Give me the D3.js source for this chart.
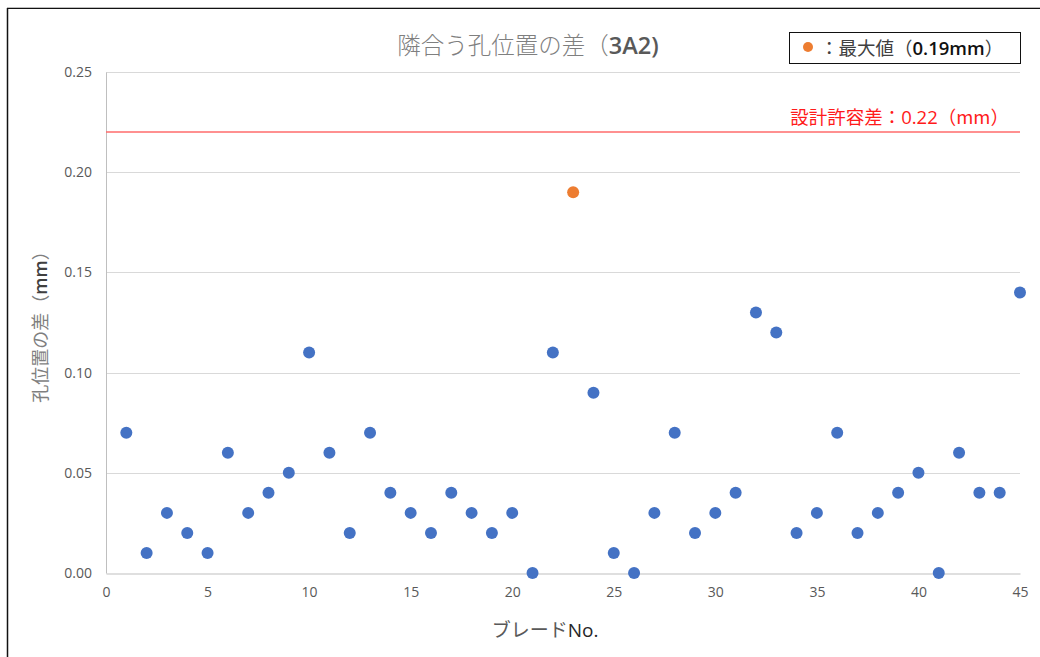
<!DOCTYPE html>
<html>
<head>
<meta charset="utf-8">
<script src="https://cdn.jsdelivr.net/npm/d3@7"></script>
<style>
  html, body { margin: 0; padding: 0; background: #fff; }
  svg { display: block; }
  text { font-family: "Noto Sans CJK JP", "Noto Sans", sans-serif; }
</style>
</head>
<body>
<svg id="chart" width="1040" height="657"></svg>
<script>
// Blade numbers and adjacent hole position difference (mm)
const bladeNo = d3.range(1, 46);
const diffValues = [
  0.07, 0.01, 0.03, 0.02, 0.01, 0.06, 0.03, 0.04, 0.05, 0.11,
  0.06, 0.02, 0.07, 0.04, 0.03, 0.02, 0.04, 0.03, 0.02, 0.03,
  0.00, 0.11, 0.19, 0.09, 0.01, 0.00, 0.03, 0.07, 0.02, 0.03,
  0.04, 0.13, 0.12, 0.02, 0.03, 0.07, 0.02, 0.03, 0.04, 0.05,
  0.00, 0.06, 0.04, 0.04, 0.14
];
const maxBlade = 23;
const tolerance = 0.22;
const yTicks = [0, 0.05, 0.10, 0.15, 0.20, 0.25];
const xTicks = [0, 5, 10, 15, 20, 25, 30, 35, 40, 45];

const latin = "'Open Sans', 'Noto Sans', sans-serif";
const svg = d3.select("#chart");
const margin = { left: 106, right: 20, top: 72, bottom: 84 };
const W = 1040, H = 657;

const x = d3.scaleLinear().domain([0, 45]).range([margin.left, W - margin.right]);
const y = d3.scaleLinear().domain([0, 0.25]).range([H - margin.bottom, margin.top]);

// Frame edges
svg.append("line").attr("x1", 7).attr("x2", W).attr("y1", 7.5).attr("y2", 7.5)
  .attr("stroke", "#bdbdbd").attr("stroke-width", 1);
svg.append("line").attr("x1", 7).attr("x2", W).attr("y1", 8.5).attr("y2", 8.5)
  .attr("stroke", "#111").attr("stroke-width", 1);
svg.append("line").attr("x1", 7.5).attr("x2", 7.5).attr("y1", 8).attr("y2", H)
  .attr("stroke", "#111").attr("stroke-width", 1.5);

// Horizontal gridlines
svg.append("g")
  .selectAll("line")
  .data(yTicks.slice(1))
  .join("line")
  .attr("x1", x(0)).attr("x2", x(45))
  .attr("y1", d => Math.round(y(d)) + 0.5).attr("y2", d => Math.round(y(d)) + 0.5)
  .attr("stroke", "#d9d9d9").attr("stroke-width", 1);

// Axes
const yAxis = d3.axisLeft(y).tickValues(yTicks).tickFormat(d3.format(".2f")).tickSize(0).tickPadding(14);
const gy = svg.append("g").attr("transform", `translate(${x(0)},0)`).call(yAxis);
gy.select(".domain").attr("stroke", "#bfbfbf");
gy.selectAll("text").attr("fill", "#595959").style("font-size", "14px").style("font-family", latin);

const xAxis = d3.axisBottom(x).tickValues(xTicks).tickFormat(d3.format("d")).tickSize(0).tickPadding(14);
const gx = svg.append("g").attr("transform", `translate(0,${Math.round(y(0)) + 0.5})`).call(xAxis);
gx.select(".domain").attr("stroke", "#bfbfbf");
gx.selectAll("text").attr("fill", "#595959").style("font-size", "14px").style("font-family", latin);

// Tolerance line
svg.append("line")
  .attr("x1", x(0)).attr("x2", x(45))
  .attr("y1", y(tolerance)).attr("y2", y(tolerance))
  .attr("stroke", "#ff6b6b").attr("stroke-width", 1.5);
const tolText = svg.append("text")
  .attr("x", 1009).attr("y", y(tolerance) - 8)
  .attr("text-anchor", "end").attr("fill", "#ff1a1a")
  .style("font-size", "18.5px");
tolText.append("tspan").text("設計許容差：");
tolText.append("tspan").style("font-family", latin).text("0.22");
tolText.append("tspan").text("（mm）");

// Points
svg.append("g")
  .selectAll("circle")
  .data(bladeNo.map((b, i) => ({ b, v: diffValues[i] })))
  .join("circle")
  .attr("cx", d => x(d.b))
  .attr("cy", d => y(d.v))
  .attr("r", 6)
  .attr("fill", d => d.b === maxBlade ? "#ED7D31" : "#4472C4");

// Title
const title = svg.append("text")
  .attr("x", 528).attr("y", 54)
  .attr("text-anchor", "middle").attr("fill", "#7f7f7f")
  .style("font-size", "23.5px").style("font-weight", 300);
title.append("tspan").text("隣合う孔位置の差（");
title.append("tspan").attr("fill", "#595959").style("font-weight", 600)
  .style("font-family", latin).text("3A2)");

// Y axis title
const yTitle = svg.append("text")
  .attr("transform", `translate(47,${(y(0) + y(0.25)) / 2}) rotate(-90)`)
  .attr("text-anchor", "middle").attr("fill", "#7f7f7f")
  .style("font-size", "18px");
yTitle.append("tspan").text("孔位置の差（");
yTitle.append("tspan").attr("fill", "#404040").style("font-weight", 600)
  .style("font-family", latin).text("mm");
yTitle.append("tspan").text("）");

// X axis title
const xTitle = svg.append("text")
  .attr("x", 545).attr("y", 637)
  .attr("text-anchor", "middle").attr("fill", "#595959")
  .style("font-size", "19px");
xTitle.append("tspan").text("ブレード");
xTitle.append("tspan").attr("fill", "#262626").style("font-family", latin).text("No.");

// Legend box
const lg = svg.append("g");
lg.append("rect").attr("x", 789.5).attr("y", 32.5).attr("width", 231).attr("height", 31)
  .attr("fill", "#fff").attr("stroke", "#111").attr("stroke-width", 1);
lg.append("circle").attr("cx", 808).attr("cy", 47).attr("r", 5).attr("fill", "#ED7D31");
const lgText = lg.append("text").attr("x", 820).attr("y", 55)
  .attr("fill", "#404040").style("font-size", "18.5px");
lgText.append("tspan").text("：最大値（");
lgText.append("tspan").attr("fill", "#111").style("font-weight", 600)
  .style("font-family", latin).text("0.19mm");
lgText.append("tspan").text("）");
</script>
</body>
</html>
